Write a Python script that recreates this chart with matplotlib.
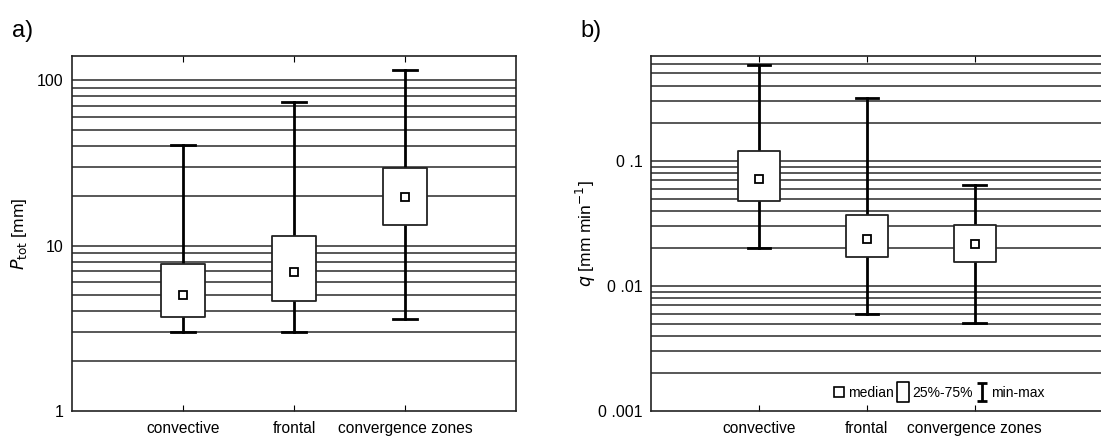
import matplotlib
matplotlib.use("Agg")
import matplotlib.pyplot as plt
from matplotlib.path import Path
from matplotlib.lines import Line2D
import numpy as np

plt.rcParams['font.family'] = ['Liberation Sans', 'DejaVu Sans']

categories = ['convective', 'frontal', 'convergence zones']

# panel a: P_tot [mm]
a_min = [3.0, 3.0, 3.6]
a_q1 = [3.7, 4.6, 13.3]
a_med = [5.0, 6.9, 19.7]
a_q3 = [7.7, 11.5, 29.5]
a_max = [40.5, 74.0, 115.0]

# panel b: q [mm min-1]
b_min = [0.020, 0.0060, 0.0051]
b_q1 = [0.048, 0.0171, 0.0156]
b_med = [0.072, 0.0239, 0.0218]
b_q3 = [0.119, 0.0372, 0.0306]
b_max = [0.58, 0.318, 0.064]

a_grid = [2, 3, 4, 5, 6, 7, 8, 9, 10, 20, 30, 40, 50, 60, 70, 80, 90, 100]
b_grid = [0.002, 0.003, 0.004, 0.005, 0.006, 0.007, 0.008, 0.009, 0.01,
          0.02, 0.03, 0.04, 0.05, 0.06, 0.07, 0.08, 0.09, 0.1,
          0.2, 0.3, 0.4, 0.5, 0.6]

gridcol = '#4a4a4a'


def draw_panel(ax, vmin, q1, med, q3, vmax, grid):
    for g in grid:
        ax.axhline(g, color=gridcol, lw=1.3, zorder=1)
    x = np.arange(1, len(categories) + 1)
    bw = 0.39
    cw = 0.21
    for xi, lo, a, m, b, hi in zip(x, vmin, q1, med, q3, vmax):
        ax.plot([xi, xi], [lo, a], color='k', lw=2, zorder=2)
        ax.plot([xi, xi], [b, hi], color='k', lw=2, zorder=2)
        ax.plot([xi - cw / 2, xi + cw / 2], [lo, lo], color='k', lw=2, zorder=2)
        ax.plot([xi - cw / 2, xi + cw / 2], [hi, hi], color='k', lw=2, zorder=2)
        ax.fill_between([xi - bw / 2, xi + bw / 2], a, b, facecolor='white',
                        edgecolor='#222222', lw=1.3, zorder=3)
        ax.plot(xi, m, marker='s', ms=6, mfc='white', mec='k', mew=1.3, zorder=4)
    ax.set_yscale('log')
    ax.set_xticks(x)
    ax.set_xticklabels(categories, fontsize=11.2)
    ax.tick_params(axis='x', direction='in', length=4, top=True, pad=7)
    ax.tick_params(axis='y', which='both', length=0, labelsize=11.5, pad=6)
    for s in ax.spines.values():
        s.set_linewidth(1.2)
        s.set_color('#222222')


fig = plt.figure(figsize=(11.01, 4.41), dpi=100)
ax1 = fig.add_axes([0.0654, 0.068, 0.4033, 0.805])
ax2 = fig.add_axes([0.5913, 0.068, 0.4087, 0.805])

draw_panel(ax1, a_min, a_q1, a_med, a_q3, a_max, a_grid)
ax1.set_xlim(0, 4)
ax1.set_ylim(1, 140)
ax1.set_yticks([1, 10, 100])
ax1.set_yticklabels(['1', '10', '100'])
ax1.yaxis.set_minor_locator(matplotlib.ticker.NullLocator())
ax1.set_ylabel(r'$P_{\mathrm{tot}}$ [mm]', fontsize=12.5, labelpad=6)

draw_panel(ax2, b_min, b_q1, b_med, b_q3, b_max, b_grid)
ax2.set_xlim(0, 4.17)
ax2.set_ylim(0.001, 0.69)
ax2.set_yticks([0.001, 0.01, 0.1])
ax2.set_yticklabels(['0 .001', '0 .01', '0 .1'])
ax2.yaxis.set_minor_locator(matplotlib.ticker.NullLocator())
ax2.set_ylabel(r'$q$ [mm min$^{-1}$]', fontsize=12.5, labelpad=0)
ax2.spines['right'].set_visible(False)

# legend
rect = Path([(-0.55, -1), (0.55, -1), (0.55, 1), (-0.55, 1), (-0.55, -1)],
            [Path.MOVETO, Path.LINETO, Path.LINETO, Path.LINETO, Path.CLOSEPOLY])
ibeam = Path([(-0.6, 1), (0.6, 1), (0, 1), (0, -1), (-0.6, -1), (0.6, -1)],
             [Path.MOVETO, Path.LINETO, Path.MOVETO, Path.LINETO, Path.MOVETO, Path.LINETO])
handles = [
    Line2D([], [], ls='none', marker='s', ms=7, mfc='white', mec='k', mew=1.2),
    Line2D([], [], ls='none', marker=rect, ms=15, mfc='white', mec='k', mew=1.2),
    Line2D([], [], ls='none', marker=ibeam, ms=13, mfc='none', mec='k', mew=2),
]
ax2.legend(handles, ['median', '25%-75%', 'min-max'], ncol=3, frameon=False,
           loc='lower left', bbox_to_anchor=(0.38, 0.0), fontsize=10,
           handlelength=0.8, handletextpad=0.25, columnspacing=0.3,
           borderaxespad=0.4)

fig.text(0.011, 0.915, 'a)', fontsize=17)
fig.text(0.527, 0.915, 'b)', fontsize=17)

fig.savefig('out.png', dpi=100)
